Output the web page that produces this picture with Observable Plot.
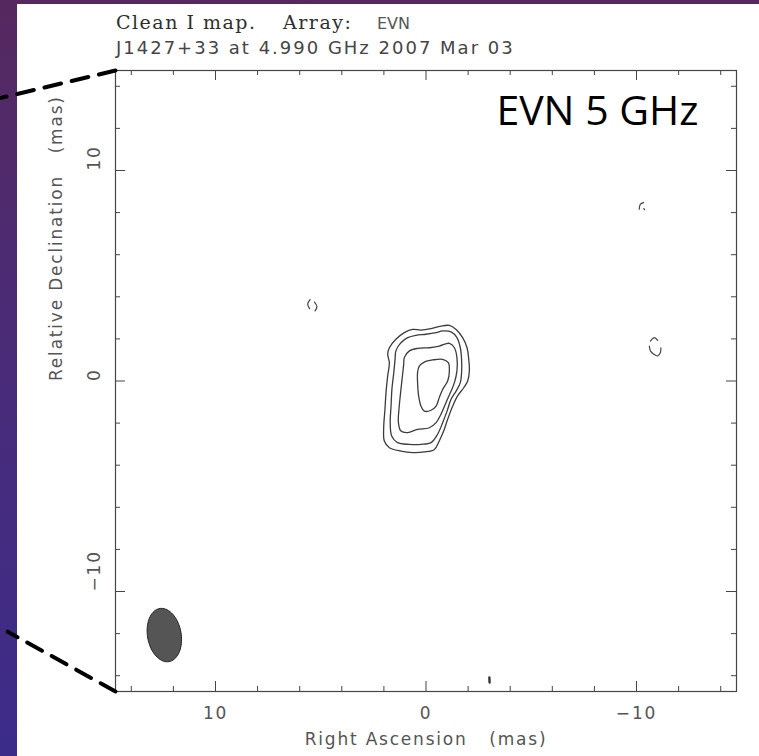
<!DOCTYPE html>
<html>
<head>
<meta charset="utf-8">
<script src="https://cdn.jsdelivr.net/npm/d3@7"></script>
<script src="https://cdn.jsdelivr.net/npm/@observablehq/plot@0.6"></script>
<style>
  html, body { margin: 0; padding: 0; }
  body {
    width: 759px; height: 756px; overflow: hidden; position: relative;
    background: linear-gradient(180deg, #55295f 0%, #4a2b78 45%, #3c2c8a 100%);
  }
  #panel { position: absolute; left: 17px; top: 4px; right: 0; bottom: 0; background: #fff; }
  .hd { position: absolute; white-space: pre; line-height: 1; }
  .serif { font-family: "DejaVu Serif", serif; font-size: 19px; letter-spacing: 1.5px; color: #2e2e2e; }
  .sans { font-family: "DejaVu Sans", sans-serif; color: #454545; }
  #chart { position: absolute; left: 0; top: 62px; }
  #chart svg text { letter-spacing: 1.8px; }
</style>
</head>
<body>
<div id="panel"></div>
<div class="hd serif" style="left:116px; top:13px;">Clean I map.</div>
<div class="hd serif" style="left:283px; top:13px;">Array:</div>
<div class="hd sans" style="left:377px; top:15.5px; font-size:16px; color:#555;">EVN</div>
<div class="hd sans" style="left:116px; top:38.8px; font-size:18px; letter-spacing:2px;">J1427+33 at 4.990 GHz 2007 Mar 03</div>
<div id="chart"></div>
<script>
// Map extent (mas), tick positions and labels
const mapHalfWidth = 14.75;
const majorTicks = [-10, 0, 10];
const minorTicks = [-14, -12, -8, -6, -4, -2, 2, 4, 6, 8, 12, 14];
const xTitle = "Right Ascension\u00a0\u00a0\u00a0(mas)";
const yTitle = "Relative Declination\u00a0\u00a0\u00a0(mas)";
const badge = "EVN 5 GHz";

// Contour levels of the core, traced as [RA offset, Dec offset] in mas
const contourOuter = [[1.74,1.58],[1.43,1.98],[1.03,2.30],[0.63,2.45],[0.24,2.42],[-0.24,2.49],[-0.71,2.61],[-1.11,2.64],[-1.43,2.45],[-1.74,2.06],[-1.95,1.58],[-2.03,1.03],[-2.06,0.48],[-1.98,0.00],[-1.79,-0.32],[-1.50,-0.71],[-1.27,-1.19],[-1.03,-1.82],[-0.84,-2.38],[-0.63,-2.85],[-0.40,-3.25],[0.08,-3.37],[0.63,-3.40],[1.19,-3.33],[1.74,-3.17],[1.98,-2.85],[2.01,-2.22],[1.95,-1.35],[1.90,-0.55],[1.82,0.24],[1.74,0.87],[1.82,1.27]];
const contourSecond = [[1.43,1.43],[1.19,1.82],[0.87,2.06],[0.48,2.17],[0.00,2.22],[-0.48,2.30],[-0.79,2.38],[-1.19,2.33],[-1.47,2.06],[-1.63,1.58],[-1.69,1.03],[-1.69,0.40],[-1.63,-0.08],[-1.43,-0.48],[-1.19,-0.87],[-1.00,-1.43],[-0.79,-1.98],[-0.55,-2.53],[-0.24,-2.93],[0.24,-3.01],[0.79,-3.01],[1.35,-2.93],[1.63,-2.61],[1.70,-1.98],[1.66,-1.19],[1.62,-0.40],[1.53,0.40],[1.47,1.03]];
const contourThird = [[1.03,1.11],[0.79,1.43],[0.40,1.55],[-0.16,1.58],[-0.63,1.66],[-1.11,1.79],[-1.35,1.58],[-1.47,1.11],[-1.47,0.48],[-1.35,-0.08],[-1.16,-0.55],[-0.95,-1.03],[-0.71,-1.58],[-0.48,-1.98],[-0.16,-2.22],[0.40,-2.30],[0.87,-2.45],[1.19,-2.38],[1.31,-1.98],[1.27,-1.19],[1.19,-0.40],[1.11,0.32],[1.06,0.79]];
const contourInner = [[0.32,0.71],[0.08,0.90],[-0.32,1.00],[-0.79,1.03],[-1.06,0.87],[-1.11,0.48],[-1.03,0.00],[-0.79,-0.40],[-0.63,-0.79],[-0.48,-1.19],[-0.24,-1.39],[0.08,-1.43],[0.24,-1.19],[0.35,-0.71],[0.40,-0.08],[0.40,0.40]];

// Faint noise-level fragments of the lowest contour
const fragments = [
  [[5.51,3.87],[5.62,3.66],[5.53,3.44]],
  [[5.30,3.75],[5.18,3.54],[5.27,3.33]],
  [[-10.13,8.16],[-10.18,8.39],[-10.34,8.47]],
  [[-10.35,8.19],[-10.38,8.14]],
  [[-10.66,1.90],[-10.85,2.06],[-11.01,1.93]],
  [[-10.61,1.66],[-10.66,1.43],[-10.82,1.27],[-11.01,1.19],[-11.13,1.34],[-11.16,1.58]]
];
const specks = [[[-3.01,-14.08],[-3.02,-14.32]]];

// Restoring beam: centre (mas), major/minor FWHM (mas), position angle (deg)
const beamRA = 12.43, beamDec = -12.07;
const beamMajor = 2.56, beamMinor = 1.60, beamPA = 10;

// Zoom guide lines running from the frame corners out to the left
const guideLines = [
  [[14.75, 14.75], [20.19, 13.45]],
  [[14.75, -14.75], [19.87, -11.91]]
];

const toRows = (paths) => paths.flatMap((p, i) => p.map(([ra, dec]) => ({ra, dec, id: i})));
const contourRows = toRows([contourOuter, contourSecond, contourThird, contourInner]);
const fragmentRows = toRows(fragments);
const speckRows = toRows(specks);
const guideRows = toRows(guideLines);

// Beam outline from its parameters
const pa = beamPA * Math.PI / 180;
const beamRows = d3.range(0, 72).map(i => {
  const t = i / 72 * 2 * Math.PI;
  const u = beamMajor / 2 * Math.cos(t), v = beamMinor / 2 * Math.sin(t);
  return {ra: beamRA + u * Math.sin(pa) + v * Math.cos(pa), dec: beamDec + u * Math.cos(pa) - v * Math.sin(pa)};
});

const W = 759, H = 694;
const mL = 115, mR = 23, mT = 8, mB = 65;
const fw = W - mL - mR, fh = H - mT - mB;
const ink = "#454545";
const fmt = d3.format("d");

const chart = Plot.plot({
  width: W, height: H,
  marginLeft: mL, marginRight: mR, marginTop: mT, marginBottom: mB,
  x: {domain: [mapHalfWidth, -mapHalfWidth]},
  y: {domain: [-mapHalfWidth, mapHalfWidth], axis: null},
  style: {background: "transparent", fontFamily: "DejaVu Sans, sans-serif", fontSize: "17px", color: "#555", overflow: "visible"},
  marks: [
    // inward ticks on all four sides
    Plot.ruleX(minorTicks, {x: d => d, insetBottom: fh - 5, stroke: ink}),
    Plot.ruleX(minorTicks, {x: d => d, insetTop: fh - 5, stroke: ink}),
    Plot.ruleX(majorTicks, {x: d => d, insetBottom: fh - 10, stroke: ink}),
    Plot.ruleX(majorTicks, {x: d => d, insetTop: fh - 10, stroke: ink}),
    Plot.ruleY(minorTicks, {y: d => d, insetRight: fw - 5, stroke: ink}),
    Plot.ruleY(minorTicks, {y: d => d, insetLeft: fw - 5, stroke: ink}),
    Plot.ruleY(majorTicks, {y: d => d, insetRight: fw - 10, stroke: ink}),
    Plot.ruleY(majorTicks, {y: d => d, insetLeft: fw - 10, stroke: ink}),
    Plot.frame({stroke: ink, strokeWidth: 1.2}),
    Plot.axisX(majorTicks, {tickSize: 0, tickPadding: 15, tickFormat: fmt, label: null, fontSize: 17, fill: "#555"}),
    Plot.text(majorTicks, {y: d => d, text: d => fmt(d), frameAnchor: "left", dx: -16, rotate: -90, lineAnchor: "bottom", fontSize: 17, fill: "#555"}),
    Plot.text([xTitle], {text: d => d, frameAnchor: "bottom", dy: 53, lineAnchor: "bottom", fontSize: 17, fill: "#555"}),
    Plot.text([yTitle], {text: d => d, frameAnchor: "left", dx: -54, rotate: -90, lineAnchor: "bottom", fontSize: 17, fill: "#555"}),
    // contours
    Plot.line(contourRows, {x: "ra", y: "dec", z: "id", curve: "catmull-rom-closed", stroke: "#3c3c3c", strokeWidth: 1.3}),
    Plot.line(fragmentRows, {x: "ra", y: "dec", z: "id", curve: "catmull-rom", stroke: "#444", strokeWidth: 1.2}),
    Plot.line(speckRows, {x: "ra", y: "dec", z: "id", stroke: "#333", strokeWidth: 2.4, strokeLinecap: "round"}),
    // beam
    Plot.line(beamRows, {x: "ra", y: "dec", curve: "linear-closed", fill: "#555", stroke: "#222", strokeWidth: 1}),
    // guide lines
    Plot.line(guideRows, {x: "ra", y: "dec", z: "id", stroke: "#000", strokeWidth: 4, strokeDasharray: "17,11"}),
    Plot.text([badge], {text: d => d, frameAnchor: "top-right", dx: -38, dy: 54, textAnchor: "end", lineAnchor: "bottom", fontSize: 41, fontFamily: "Open Sans, sans-serif", fill: "#000"})
  ]
});
document.getElementById("chart").appendChild(chart);
chart.querySelectorAll("text").forEach(t => { if (t.textContent === badge) t.style.letterSpacing = "0px"; });
</script>
</body>
</html>
